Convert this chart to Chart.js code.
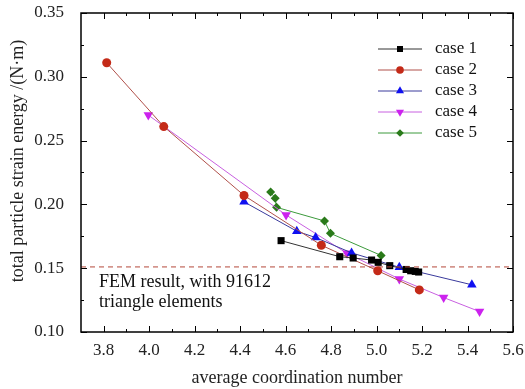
<!DOCTYPE html>
<html>
<head>
<meta charset="utf-8">
<script src="https://cdn.jsdelivr.net/npm/chart.js@4/dist/chart.umd.min.js"></script>
<style>
  html, body { margin: 0; padding: 0; background: #fff; }
  #c { display: block; }
</style>
</head>
<body>
<canvas id="c" width="525" height="389"></canvas>
<script>
// values
const case1X = [4.58, 4.838, 4.897, 4.978, 5.007, 5.058, 5.13, 5.15, 5.17, 5.185];
const case1Y = [0.1716, 0.159, 0.158, 0.1564, 0.1546, 0.152, 0.149, 0.148, 0.1475, 0.147];
const case2X = [3.813, 4.064, 4.417, 4.757, 5.005, 5.188];
const case2Y = [0.311, 0.261, 0.207, 0.168, 0.148, 0.133];
const case3X = [4.417, 4.649, 4.732, 4.89, 5.1, 5.419];
const case3Y = [0.202, 0.179, 0.174, 0.162, 0.1507, 0.137];
const case4X = [3.996, 4.602, 4.87, 5.1, 5.295, 5.453];
const case4Y = [0.270, 0.1917, 0.1617, 0.1415, 0.127, 0.116];
const case5X = [4.534, 4.554, 4.56, 4.771, 4.797, 5.02];
const case5Y = [0.2097, 0.2048, 0.1977, 0.187, 0.1773, 0.160];
const femValue = 0.151;
const femLabel = ["FEM result, with 91612", "triangle elements"];

const xTicks = [3.8, 4.0, 4.2, 4.4, 4.6, 4.8, 5.0, 5.2, 5.4, 5.6];
const yTicks = [0.10, 0.15, 0.20, 0.25, 0.30, 0.35];
const xRange = [3.7, 5.6];
const yRange = [0.10, 0.35];
const yTitle = "total particle strain energy /(N·m)";

const FONT = "'Liberation Serif', 'Times New Roman', serif";

function pts(xs, ys) {
  return xs.map((x, i) => ({ x, y: ys[i] }));
}

function series(label, xs, ys, lineColor, pointColor, style, radius, rotation) {
  return {
    label,
    data: pts(xs, ys),
    showLine: true,
    borderColor: lineColor,
    borderWidth: 1,
    backgroundColor: pointColor,
    pointBorderColor: pointColor,
    pointBackgroundColor: pointColor,
    pointStyle: style,
    pointRadius: radius,
    pointRotation: rotation || 0,
    pointBorderWidth: 0,
  };
}

const datasets = [
  {
    label: "FEM",
    data: [{ x: xRange[0], y: femValue }, { x: xRange[1], y: femValue }],
    showLine: true,
    borderColor: "#b4483a",
    borderWidth: 1,
    borderDash: [5, 4],
    pointRadius: 0,
  },
  series("case 1", case1X, case1Y, "#333333", "#000000", "rect", 5),
  series("case 2", case2X, case2Y, "#b0504a", "#c42a18", "circle", 4.5),
  series("case 3", case3X, case3Y, "#3a3a9c", "#1010f0", "triangle", 5.5),
  series("case 4", case4X, case4Y, "#c860e0", "#cc22ee", "triangle", 5.5, 180),
  series("case 5", case5X, case5Y, "#3c9a3c", "#2a7a1a", "rectRot", 4.5),
];

// frame, inner ticks, legend, y title and annotation
const framePlugin = {
  id: "frame",
  afterDatasetsDraw(chart) {
    const { ctx, chartArea: a } = chart;
    const xs = chart.scales.x, ys = chart.scales.y;
    ctx.save();
    ctx.strokeStyle = "#000";
    ctx.lineWidth = 1;
    ctx.beginPath();
    xTicks.forEach(v => {
      const px = Math.round(xs.getPixelForValue(v)) + 0.5;
      ctx.moveTo(px, a.bottom); ctx.lineTo(px, a.bottom - 6);
      ctx.moveTo(px, a.top); ctx.lineTo(px, a.top + 6);
      const m = xs.getPixelForValue(v - 0.1);
      if (m > a.left + 1) {
        const mx = Math.round(m) + 0.5;
        ctx.moveTo(mx, a.bottom); ctx.lineTo(mx, a.bottom - 3);
        ctx.moveTo(mx, a.top); ctx.lineTo(mx, a.top + 3);
      }
    });
    yTicks.forEach((v, i) => {
      const py = Math.round(ys.getPixelForValue(v)) + 0.5;
      ctx.moveTo(a.left, py); ctx.lineTo(a.left + 6, py);
      ctx.moveTo(a.right, py); ctx.lineTo(a.right - 6, py);
      if (i < yTicks.length - 1) {
        const my = Math.round(ys.getPixelForValue(v + 0.025)) + 0.5;
        ctx.moveTo(a.left, my); ctx.lineTo(a.left + 3, my);
        ctx.moveTo(a.right, my); ctx.lineTo(a.right - 3, my);
      }
    });
    ctx.stroke();
    ctx.lineWidth = 1.5;
    ctx.strokeRect(a.left, a.top, a.right - a.left, a.bottom - a.top);

    // legend
    ctx.font = "17px " + FONT;
    ctx.textBaseline = "middle";
    ctx.textAlign = "left";
    chart.data.datasets.slice(1).forEach((ds, i) => {
      const y = a.top + 36 + i * 21;
      const x0 = a.right - 135;
      ctx.strokeStyle = ds.borderColor;
      ctx.lineWidth = 1;
      ctx.beginPath();
      ctx.moveTo(x0, y); ctx.lineTo(x0 + 44, y);
      ctx.stroke();
      ctx.fillStyle = ds.pointBackgroundColor;
      Chart.helpers.drawPoint(ctx, {
        pointStyle: ds.pointStyle,
        radius: ds.pointRadius * 0.85,
        rotation: ds.pointRotation,
        borderWidth: 0,
      }, x0 + 22, y);
      ctx.fillStyle = "#111";
      ctx.fillText(ds.label, x0 + 57, y);
    });

    // FEM annotation
    ctx.font = "18px " + FONT;
    ctx.textBaseline = "alphabetic";
    femLabel.forEach((t, i) => ctx.fillText(t, a.left + 18, a.bottom - 45 + i * 20));

    // y axis title
    ctx.translate(18, a.top + 148);
    ctx.rotate(-Math.PI / 2);
    ctx.textAlign = "center";
    ctx.textBaseline = "middle";
    ctx.fillStyle = "#222";
    ctx.fillText(yTitle, 0, 0);
    ctx.restore();
  },
};

new Chart(document.getElementById("c"), {
  type: "scatter",
  data: { datasets },
  options: {
    responsive: false,
    animation: false,
    layout: { padding: { top: 13, right: 12, left: 0, bottom: 0 } },
    plugins: { legend: { display: false }, tooltip: { enabled: false } },
    scales: {
      x: {
        type: "linear",
        min: xRange[0],
        max: xRange[1],
        afterBuildTicks: s => { s.ticks = xTicks.map(v => ({ value: v })); },
        afterFit: s => { s.height = 57; s.paddingLeft = 0; s.paddingRight = 0; },
        grid: { display: false, drawTicks: false },
        border: { display: false },
        ticks: {
          padding: 8,
          color: "#222",
          font: { family: FONT, size: 17 },
          callback: v => v.toFixed(1),
        },
        title: {
          display: true,
          text: "average coordination number",
          color: "#222",
          font: { family: FONT, size: 18 },
          padding: { top: 0, bottom: 0 },
        },
      },
      y: {
        type: "linear",
        min: yRange[0],
        max: yRange[1],
        afterBuildTicks: s => { s.ticks = yTicks.map(v => ({ value: v })); },
        afterFit: s => { s.width = 81; s.paddingTop = 0; s.paddingBottom = 0; },
        grid: { display: false, drawTicks: false },
        border: { display: false },
        ticks: {
          padding: 17,
          color: "#222",
          font: { family: FONT, size: 17 },
          callback: v => v.toFixed(2),
        },
      },
    },
  },
  plugins: [framePlugin],
});
</script>
</body>
</html>
